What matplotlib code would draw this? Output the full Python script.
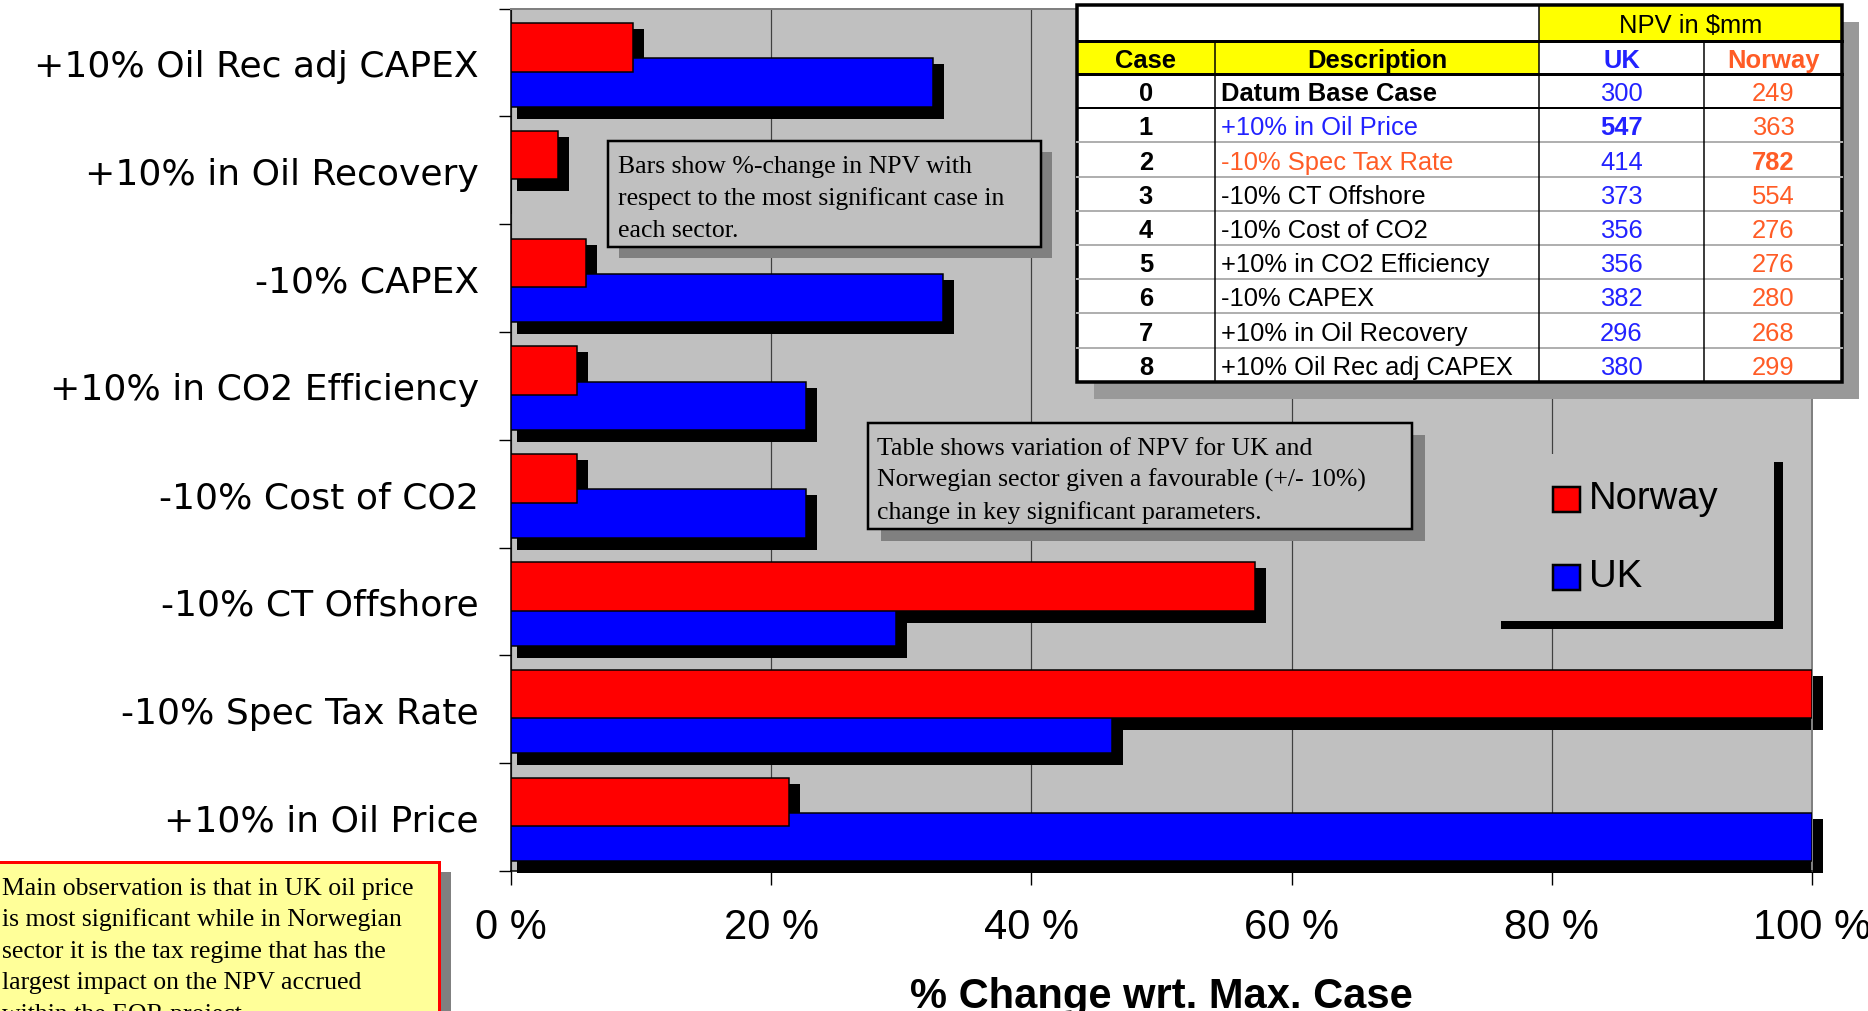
import numpy as np
import matplotlib
matplotlib.use('Agg')
import matplotlib.pyplot as plt
from matplotlib.patches import Rectangle

# bar chart data, bottom to top
categories = ['+10% in Oil Price', '-10% Spec Tax Rate', '-10% CT Offshore',
              '-10% Cost of CO2', '+10% in CO2 Efficiency', '-10% CAPEX',
              '+10% in Oil Recovery', '+10% Oil Rec adj CAPEX']
norway_pct = [21.4, 100.0, 57.2, 5.1, 5.1, 5.8, 3.6, 9.4]
uk_pct = [100.0, 46.2, 29.6, 22.7, 22.7, 33.2, 0.0, 32.4]
xtick_vals = [0, 20, 40, 60, 80, 100]
xtick_labels = ['0 %', '20 %', '40 %', '60 %', '80 %', '100 %']

# table data
case_ids = ['0', '1', '2', '3', '4', '5', '6', '7', '8']
descriptions = ['Datum Base Case', '+10% in Oil Price', '-10% Spec Tax Rate',
                '-10% CT Offshore', '-10% Cost of CO2', '+10% in CO2 Efficiency',
                '-10% CAPEX', '+10% in Oil Recovery', '+10% Oil Rec adj CAPEX']
uk_npv = [300, 547, 414, 373, 356, 356, 382, 296, 380]
norway_npv = [249, 363, 782, 554, 276, 276, 280, 268, 299]

W, H = 1868, 1012
PT = 0.72  # points per pixel at dpi 100
BG = '#C0C0C0'
RED = '#FF0000'
BLUE = '#0000FF'
TBLUE = '#2222FF'
ORANGE = '#FF5C26'
SANS = 'Liberation Sans'
SERIF = 'Liberation Serif'

fig = plt.figure(figsize=(W / 100, H / 100), dpi=100)
ax = fig.add_axes([511 / W, 1 - 872 / H, 1301 / W, 862.5 / H])
ax.set_facecolor(BG)

y = np.arange(len(categories))
bar_h = 0.45
px_x = 100 / 1301
px_y = 8 / 862.5
nor_y = y + 0.14
uk_y = y - 0.185


def shadow(ys, vals):
    v = np.asarray(vals, float)
    m = v > 0
    ax.barh(ys[m] - 9 * px_y, v[m] + 5 * px_x, height=bar_h + 6 * px_y,
            left=6 * px_x, color='black', zorder=2, clip_on=False)


shadow(nor_y, norway_pct)
shadow(uk_y, uk_pct)
ax.barh(uk_y, uk_pct, height=bar_h, color=BLUE, edgecolor='black',
        linewidth=1.5 * PT, zorder=3)
ax.barh(nor_y, norway_pct, height=bar_h, color=RED, edgecolor='black',
        linewidth=1.5 * PT, zorder=4)

ax.set_xlim(0, 100)
ax.set_ylim(-0.5, len(categories) - 0.5)
ax.xaxis.grid(True, color='#404040', linewidth=1.2 * PT)
ax.set_axisbelow(True)

ax.set_xticks(xtick_vals)
ax.set_xticklabels(xtick_labels, fontsize=30, family=SANS)
ax.tick_params(axis='x', length=14 * PT, width=1, direction='out', pad=22 * PT)

ax.set_yticks(np.arange(-0.5, len(categories), 1))
ax.set_yticklabels([])
ax.tick_params(axis='y', which='major', length=12 * PT, width=1, direction='out')
ax.set_yticks(y, minor=True)
ax.set_yticklabels(categories, minor=True, fontsize=26, family='DejaVu Sans')
ax.tick_params(axis='y', which='minor', length=0, pad=32 * PT)
for lab in ax.get_yticklabels(minor=True):
    lab.set_y(lab.get_position()[1])

for s in ['left', 'bottom']:
    ax.spines[s].set_color('black')
    ax.spines[s].set_linewidth(1.5 * PT)
for s in ['top', 'right']:
    ax.spines[s].set_color('#808080')
    ax.spines[s].set_linewidth(2 * PT)

fig.text(1161 / W, 1 - 1008 / H, '% Change wrt. Max. Case', ha='center',
         va='baseline', fontsize=30, fontweight='bold', family=SANS)

# overlay in pixel coordinates for table, notes and legend
ov = fig.add_axes([0, 0, 1, 1], zorder=3)
ov.set_xlim(0, W)
ov.set_ylim(H, 0)
ov.axis('off')
ov.patch.set_alpha(0)


def box(x0, y0, x1, y1, fc, ec, lw, shc, sdx, sdy):
    ov.add_patch(Rectangle((x0 + sdx, y0 + sdy), x1 - x0, y1 - y0, fc=shc, ec='none'))
    ov.add_patch(Rectangle((x0, y0), x1 - x0, y1 - y0, fc=fc, ec=ec, lw=lw * PT))


# table
tx = [1077, 1215, 1539, 1704, 1842]
ty = [6, 42, 75] + [75 + 34.2 * k for k in range(1, 10)]
box(tx[0], ty[0], tx[-1], ty[-1], 'white', 'none', 0, '#999999', 17, 17)
ov.add_patch(Rectangle((tx[2], ty[0]), tx[4] - tx[2], ty[1] - ty[0], fc='#FFFF00', ec='none'))
ov.add_patch(Rectangle((tx[0], ty[1]), tx[2] - tx[0], ty[2] - ty[1], fc='#FFFF00', ec='none'))
for k in range(4, len(ty) - 1):
    ov.plot([tx[0], tx[-1]], [ty[k], ty[k]], color='#B0B0B0', lw=2 * PT)
ov.plot([tx[0], tx[-1]], [ty[3], ty[3]], color='black', lw=2 * PT)
for k in (1, 2):
    ov.plot([tx[0], tx[-1]], [ty[k], ty[k]], color='black', lw=3 * PT)
ov.plot([tx[1], tx[1]], [ty[1], ty[-1]], color='black', lw=1.5 * PT)
ov.plot([tx[2], tx[2]], [ty[0], ty[-1]], color='black', lw=1.5 * PT)
ov.plot([tx[3], tx[3]], [ty[1], ty[-1]], color='black', lw=1.5 * PT)
ov.add_patch(Rectangle((tx[0], ty[0]), tx[-1] - tx[0], ty[-1] - ty[0], fc='none', ec='black', lw=3.5 * PT))

tfs = 18.4
col_c = [(tx[i] + tx[i + 1]) / 2 for i in range(4)]
ov.text((tx[2] + tx[4]) / 2, (ty[0] + ty[1]) / 2 + 9, 'NPV in $mm', ha='center', va='baseline',
        fontsize=tfs, family=SANS)
hy = (ty[1] + ty[2]) / 2 + 9
ov.text(col_c[0], hy, 'Case', ha='center', va='baseline', fontsize=tfs, family=SANS, fontweight='bold')
ov.text(col_c[1], hy, 'Description', ha='center', va='baseline', fontsize=tfs, family=SANS, fontweight='bold')
ov.text(col_c[2], hy, 'UK', ha='center', va='baseline', fontsize=tfs, family=SANS, fontweight='bold', color=TBLUE)
ov.text(col_c[3], hy, 'Norway', ha='center', va='baseline', fontsize=tfs, family=SANS, fontweight='bold', color=ORANGE)
uk_best = int(np.argmax(uk_npv))
nor_best = int(np.argmax(norway_npv))
for i in range(len(case_ids)):
    ry = (ty[i + 2] + ty[i + 3]) / 2 + 9
    dcol = TBLUE if i == uk_best else (ORANGE if i == nor_best else 'black')
    ov.text(col_c[0], ry, case_ids[i], ha='center', va='baseline', fontsize=tfs, family=SANS, fontweight='bold')
    ov.text(tx[1] + 6, ry, descriptions[i], ha='left', va='baseline', fontsize=tfs, family=SANS,
            color=dcol, fontweight='bold' if i == 0 else 'normal')
    ov.text(col_c[2], ry, str(uk_npv[i]), ha='center', va='baseline', fontsize=tfs, family=SANS,
            color=TBLUE, fontweight='bold' if i == uk_best else 'normal')
    ov.text(col_c[3], ry, str(norway_npv[i]), ha='center', va='baseline', fontsize=tfs, family=SANS,
            color=ORANGE, fontweight='bold' if i == nor_best else 'normal')

# note boxes
nfs = 18.5
box(608, 142, 1041, 248, BG, 'black', 2.5, '#808080', 11, 11)
for k, line in enumerate(['Bars show %-change in NPV with',
                          'respect to the most significant case in',
                          'each sector.']):
    ov.text(618, 173 + 32 * k, line, ha='left', va='baseline', fontsize=nfs, family=SERIF)

box(868, 424, 1412, 530, BG, 'black', 2.5, '#808080', 13, 12)
for k, line in enumerate(['Table shows variation of NPV for UK and',
                          'Norwegian sector given a favourable (+/- 10%)',
                          'change in key significant parameters.']):
    ov.text(877, 455 + 32 * k, line, ha='left', va='baseline', fontsize=nfs, family=SERIF)

box(-6, 863, 439, 1040, '#FFFF99', RED, 3, '#808080', 12, 10)
for k, line in enumerate(['Main observation is that in UK oil price',
                          'is most significant while in Norwegian',
                          'sector it is the tax regime that has the',
                          'largest impact on the NPV accrued',
                          'within the EOR project.']):
    ov.text(2, 895 + 31.5 * k, line, ha='left', va='baseline', fontsize=nfs, family=SERIF)

# legend
box(1492, 455, 1774, 622, BG, 'none', 0, 'black', 9, 8)
for lab, col, ly in [('Norway', RED, 488), ('UK', BLUE, 566)]:
    ov.add_patch(Rectangle((1553, ly), 27, 25, fc=col, ec='black', lw=2.5 * PT))
    ov.text(1589, ly + 21, lab, ha='left', va='baseline', fontsize=27.5, family=SANS)

fig.savefig('out.png', dpi=100)
